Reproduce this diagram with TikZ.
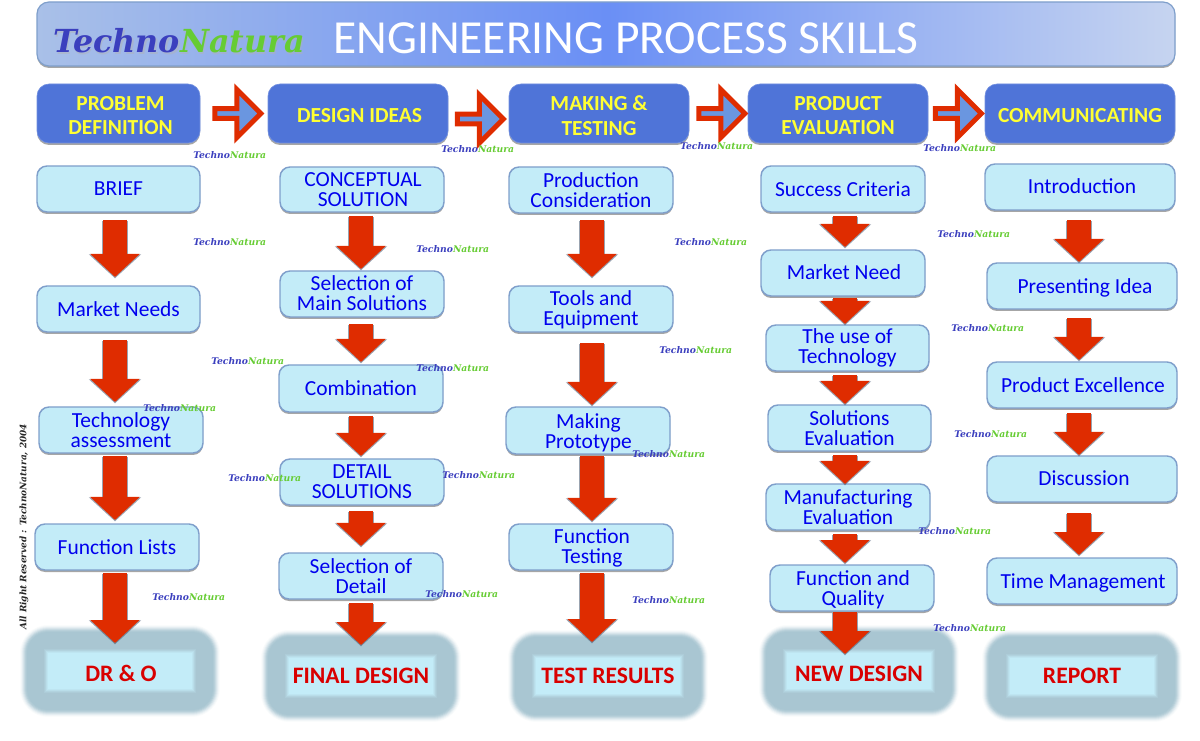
\documentclass[tikz,border=0pt]{standalone}
\usepackage{fontspec}
\usetikzlibrary{arrows.meta,shapes.arrows,shadows}
\setmainfont{Carlito}
\newfontfamily\logofont{DejaVu Serif}
\definecolor{cbox}{HTML}{C3ECF8}
\definecolor{cborder}{HTML}{7F9FCB}
\definecolor{chead}{HTML}{4F74D8}
\definecolor{cred}{HTML}{DF2C00}
\definecolor{cblue}{HTML}{0000EE}
\definecolor{cglow}{HTML}{A9C6D2}
\definecolor{cyell}{HTML}{FFFF33}
\definecolor{clogoa}{HTML}{3B3FBE}
\definecolor{clogob}{HTML}{66CC33}
\definecolor{hfill}{HTML}{6A96E0}
\definecolor{hleft}{HTML}{A9C0E8}
\definecolor{hmid}{HTML}{6A8FF5}
\definecolor{hright}{HTML}{C6D4F0}
\def\px{.75pt}
\tikzset{
  softshadow/.style={drop shadow={shadow xshift=0pt,shadow yshift=-1.5pt,opacity=.35,fill=black}},
  stepbox/.style={draw=cborder,line width=1.1pt,fill=cbox,rounded corners=7.5pt,inner sep=0pt,outer sep=0pt,softshadow},
  steptext/.style={align=center,text=cblue,font=\fontsize{16.1}{15}\selectfont,inner sep=0pt},
  headbox/.style={draw=chead!80!white,line width=.5pt,fill=chead,rounded corners=9pt,inner sep=0pt,outer sep=0pt,softshadow},
  headtext/.style={align=center,text=cyell,font=\bfseries\fontsize{16.1}{18.5}\selectfont,inner sep=0pt},
  glowbox/.style={fill=cbox,inner sep=0pt,outer sep=0pt,
    preaction={draw=cglow!6!white,line width=56*\px,line join=round},
    preaction={draw=cglow!15!white,line width=54*\px,line join=round},
    preaction={draw=cglow!30!white,line width=52*\px,line join=round},
    preaction={draw=cglow!47!white,line width=50*\px,line join=round},
    preaction={draw=cglow!65!white,line width=48*\px,line join=round},
    preaction={draw=cglow!82!white,line width=46*\px,line join=round},
    preaction={draw=cglow!93!white,line width=44*\px,line join=round},
    preaction={draw=cglow,line width=42*\px,line join=round},
    preaction={draw=cglow!85!cbox,line width=8*\px},
    preaction={draw=cglow!65!cbox,line width=6*\px},
    preaction={draw=cglow!40!cbox,line width=4*\px},
    preaction={draw=cglow!18!cbox,line width=2*\px}},
  glowtext/.style={text=red!85!black,font=\bfseries\fontsize{17.7}{20}\selectfont,inner sep=0pt},
  bigarrow/.style={draw=cred,line width=24*\px,-{Triangle[length=23*\px,width=48*\px]}},
  bigshadow/.style={draw=black!45!cborder,opacity=.55,line width=26*\px,-{Triangle[length=24*\px,width=51*\px]}},
  hollow/.style={single arrow,draw=cred,line width=5*\px,fill=hfill,minimum height=46*\px,
    minimum width=48*\px,single arrow head extend=10*\px,single arrow head indent=0pt,inner sep=0pt,outer sep=0pt},
}
\def\tdx{0}\def\tdy{0}
\newcommand{\off}[2]{\def\tdx{#1}\def\tdy{#2}}
\newcommand{\bx}[7][step]{%
  \pgfmathsetmacro{\bcx}{(#3+#5)/2}\pgfmathsetmacro{\bcy}{(#4+#6)/2}%
  \pgfmathsetmacro{\bwd}{(#5-#3)*.75}\pgfmathsetmacro{\bht}{(#6-#4)*.75}%
  \node[#1box,minimum width=\bwd pt,minimum height=\bht pt] (#2) at (\bcx,\bcy) {};%
  \node[#1text] (#2t) at (\bcx+\tdx,\bcy+\tdy) {#7};\def\tdx{0}\def\tdy{0}}
\newcommand{\darr}[5]{%
  \coordinate (xc) at (#3,0);%
  \draw[bigshadow,shorten <=#4*\px+1pt,shorten >=#5*\px-1pt] (#1.south -| xc) -- (#2.north -| xc);%
  \draw[bigarrow,shorten <=#4*\px,shorten >=#5*\px] (#1.south -| xc) -- (#2.north -| xc);}
\newcommand{\logoname}{{\logofont\bfseries\itshape\color{clogoa}Techno\color{clogob}Natura}}
\newcommand{\smlogo}[3]{\node[font=\fontsize{6.9}{8}\selectfont,inner sep=0pt,anchor=west] (#1) at (#2,#3) {\logoname};}
\begin{document}
\begin{tikzpicture}[x=.75pt,y=-.75pt]
\useasboundingbox (0,0) rectangle (1200,741);
% title bar
\node[draw=cborder,line width=.9pt,rounded corners=9pt,left color=hleft,right color=hright,middle color=hmid,
  minimum width=853.5pt,minimum height=48pt,inner sep=0pt,softshadow] (title) at (606,34) {};
\node[inner sep=0pt,anchor=west,text=white,font=\fontsize{35.6}{36}\selectfont] (ttext) at (333,38) {ENGINEERING PROCESS SKILLS};
\node[inner sep=0pt,anchor=west,font=\fontsize{23.8}{26}\selectfont,text=black!30,opacity=.45] (tlogos) at (54.5,42.5) {\logofont\bfseries\itshape TechnoNatura};
\node[inner sep=0pt,anchor=west,font=\fontsize{23.8}{26}\selectfont] (tlogo) at (53,41) {\logoname};
% headers
\off{2}{2}\bx[head]{h1}{37}{84}{200}{143}{PROBLEM\\DEFINITION}
\off{1.5}{2}\bx[head]{h2}{268}{84}{448}{143}{DESIGN IDEAS}
\off{0}{2}\bx[head]{h3}{509}{84}{689}{143}{MAKING \&\\TESTING}
\off{0}{2}\bx[head]{h4}{748}{84}{928}{143}{PRODUCT\\EVALUATION}
\off{0}{2}\bx[head]{h5}{985}{84}{1175}{143}{COMMUNICATING}
\path (h1.east) -- node[hollow,xshift=1.5*\px] (a1) {} (h2.west);
\path (h2.east) -- node[hollow,xshift=-.5*\px,yshift=-5.5*\px] (a2) {} (h3.west);
\path (h3.east) -- node[hollow,xshift=1*\px] (a3) {} (h4.west);
\path (h4.east) -- node[hollow,xshift=-.5*\px] (a4) {} (h5.west);
% column 1
\bx{a}{37}{166}{200}{212}{BRIEF}
\bx{b}{37}{286}{200}{332}{Market Needs}
\bx{c}{39}{407}{203}{453}{Technology\\assessment}
\bx{d}{35}{524}{199}{570}{Function Lists}
\off{1}{2}\bx[glow]{e}{48}{653}{192}{689}{DR \& O}
% column 2
\off{1}{0}\bx{f}{280}{167}{444}{212}{CONCEPTUAL\\SOLUTION}
\off{0}{-.5}\bx{g}{280}{271}{444}{317}{Selection of\\Main Solutions}
\bx{h}{279}{365}{443}{412}{Combination}
\bx{i}{280}{459}{444}{505}{DETAIL\\SOLUTIONS}
\bx{j}{279}{553}{443}{599}{Selection of\\Detail}
\bx[glow]{k}{289}{658}{433}{694}{FINAL DESIGN}
% column 3
\off{0}{.5}\bx{l}{509}{167}{673}{213}{Production\\Consideration}
\off{0}{.5}\bx{m}{509}{286}{673}{332}{Tools and\\Equipment}
\off{.5}{2}\bx{n}{506}{407}{670}{454}{Making\\Prototype}
\off{1}{1}\bx{o}{509}{524}{673}{570}{Function\\Testing}
\bx[glow]{p}{536}{658}{680}{694}{TEST RESULTS}
% column 4
\bx{q}{761}{166}{925}{212}{Success Criteria}
\off{1}{-1}\bx{r}{761}{250}{925}{296}{Market Need}
\bx{s}{766}{325}{929}{371}{The use of\\Technology}
\bx{t}{768}{405}{931}{451}{Solutions\\Evaluation}
\bx{u}{766}{484}{930}{530}{Manufacturing\\Evaluation}
\off{1}{2}\bx{v}{770}{565}{934}{611}{Function and\\Quality}
\off{0}{3}\bx[glow]{w}{787}{653}{931}{689}{NEW DESIGN}
% column 5
\off{2}{-1}\bx{x}{985}{164}{1175}{210}{Introduction}
\off{3}{2}\bx{y}{987}{263}{1177}{309}{Presenting Idea}
\off{1}{0}\bx{z}{987}{362}{1177}{408}{Product Excellence}
\off{2}{-1}\bx{aa}{987}{456}{1177}{502}{Discussion}
\off{1}{2}\bx{bb}{987}{558}{1177}{604}{Time Management}
\bx[glow]{cc}{1010}{658}{1154}{694}{REPORT}
% down arrows
\darr{a}{b}{115}{8}{9}
\darr{b}{c}{115}{8}{5}
\darr{c}{d}{115}{3}{4}
\darr{d}{e}{115}{3}{10}
\darr{f}{g}{361}{4}{2}
\darr{g}{h}{361}{7}{3}
\darr{h}{i}{361}{4}{3}
\darr{i}{j}{361}{6}{7}
\darr{j}{k}{361}{4}{13}
\darr{l}{m}{592}{7}{9}
\darr{m}{n}{592}{11}{2}
\darr{n}{o}{592}{2}{3}
\darr{o}{p}{592}{3}{16}
\darr{q}{r}{845}{4}{3}
\darr{r}{s}{845}{2}{1}
\darr{s}{t}{845}{4}{1}
\darr{t}{u}{845}{4}{0}
\darr{u}{v}{845}{4}{2}
\darr{v}{w}{845}{1}{-1}
\darr{x}{y}{1079}{10}{1}
\darr{y}{z}{1079}{9}{2}
\darr{z}{aa}{1079}{5}{1}
\darr{aa}{bb}{1079}{11}{3}
% small logos
\smlogo{l1}{193}{155}\smlogo{l2}{441}{149}\smlogo{l3}{680}{146}\smlogo{l4}{923}{148}
\smlogo{l5}{193}{242}\smlogo{l6}{416}{249}\smlogo{l7}{674}{242}\smlogo{l8}{937}{234}
\smlogo{l9}{211}{361}\smlogo{l10}{416}{368}\smlogo{l11}{659}{350}\smlogo{l12}{951}{328}
\smlogo{l13}{143}{408}\smlogo{l14}{632}{454}\smlogo{l15}{954}{434}
\smlogo{l16}{228}{478}\smlogo{l17}{442}{475}\smlogo{l18}{918}{531}
\smlogo{l19}{152}{597}\smlogo{l20}{425}{594}\smlogo{l21}{632}{600}\smlogo{l22}{933}{628}
% copyright
\node[rotate=90,anchor=west,inner sep=0pt,font=\logofont\bfseries\itshape\fontsize{6.7}{8}\selectfont,text=black!85] (copy) at (24,630) {All Right Reserved : TechnoNatura, 2004};
\end{tikzpicture}
\end{document}
